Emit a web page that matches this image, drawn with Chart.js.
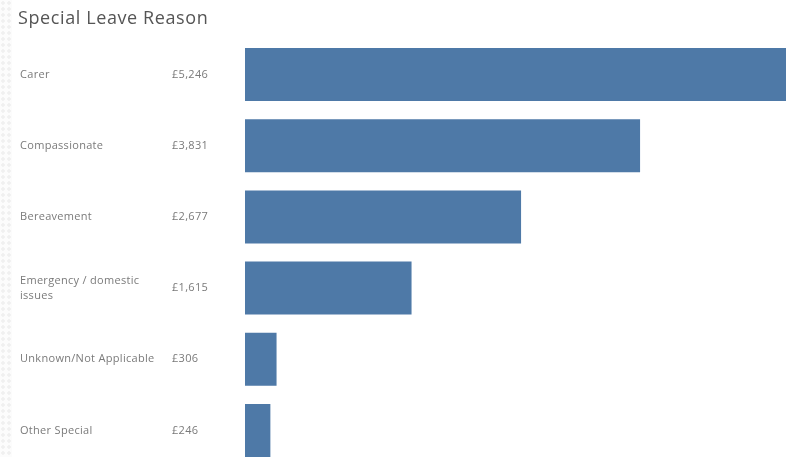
<!DOCTYPE html>
<html>
<head>
<meta charset="utf-8">
<script src="https://cdn.jsdelivr.net/npm/chart.js@4"></script>
<style>
  html, body { margin: 0; padding: 0; background: #fff; overflow: hidden; }
  #wrap { position: relative; width: 792px; height: 466px; }
  #edge {
    position: absolute; left: 0; top: 0; width: 12px; height: 457px;
    background-color: #fcfcfc;
    background-image: radial-gradient(circle at 3px 3px, #f0f0f0 1.5px, transparent 2px);
    background-size: 6px 6px;
  }
  #title {
    position: absolute; left: 18px; top: 5px;
    font-family: "Open Sans", sans-serif; font-size: 18px; letter-spacing: 0.6px; color: #555;
  }
</style>
</head>
<body>
<div id="wrap">
  <div id="edge"></div>
  <div id="title">Special Leave Reason</div>
  <canvas id="leaveChart" width="792" height="466"></canvas>
</div>
<script>
const reasons = ['Carer', 'Compassionate', 'Bereavement', ['Emergency / domestic', 'issues'], 'Unknown/Not Applicable', 'Other Special'];
const costs = [5246, 3831, 2677, 1615, 306, 246];
const costLabels = ['£5,246', '£3,831', '£2,677', '£1,615', '£306', '£246'];

const barBlue = '#4E79A7';

// category names and totals drawn in the left margin, lined up with each bar
const rowText = {
  id: 'rowText',
  afterDraw(chart) {
    const ctx = chart.ctx;
    const y = chart.scales.y;
    ctx.save();
    ctx.font = '11px "Open Sans", sans-serif';
    ctx.letterSpacing = '0.3px';
    ctx.fillStyle = '#7a7a7a';
    ctx.textBaseline = 'middle';
    ctx.textAlign = 'left';
    reasons.forEach((name, i) => {
      const cy = y.getPixelForValue(i);
      const lines = Array.isArray(name) ? name : [name];
      const lh = 15;
      lines.forEach((line, j) => {
        ctx.fillText(line, 20, cy + (j - (lines.length - 1) / 2) * lh);
      });
      ctx.fillText(costLabels[i], 172, cy);
    });
    ctx.restore();
  }
};

new Chart(document.getElementById('leaveChart'), {
  type: 'bar',
  data: {
    labels: reasons,
    datasets: [{
      data: costs,
      backgroundColor: barBlue,
      borderWidth: 0,
      categoryPercentage: 1,
      barPercentage: 0.745
    }]
  },
  options: {
    indexAxis: 'y',
    responsive: false,
    animation: false,
    layout: { padding: { left: 245, right: 6, top: 39, bottom: 0 } },
    plugins: { legend: { display: false }, tooltip: { enabled: false } },
    scales: {
      x: { display: false, min: 0, max: 5246 },
      y: { display: false, offset: true }
    }
  },
  plugins: [rowText]
});
</script>
</body>
</html>
